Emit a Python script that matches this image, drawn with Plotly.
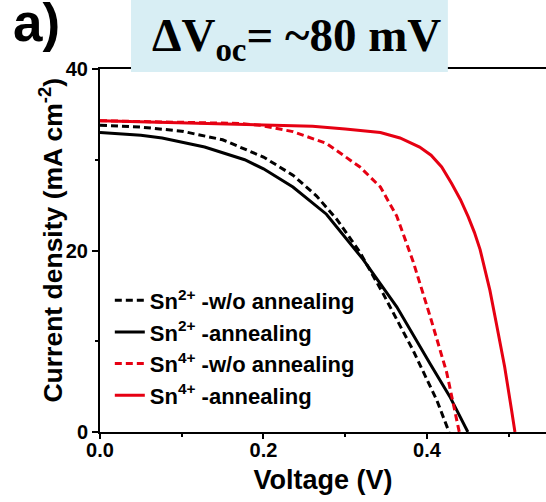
import plotly.graph_objects as go

# J-V curves (voltage in V, current density in mA cm^-2)
v_sn2_wo = [0, 0.05, 0.10, 0.15, 0.20, 0.236, 0.265, 0.29, 0.318, 0.346, 0.383, 0.412, 0.427]
j_sn2_wo = [33.8, 33.6, 33.15, 32.2, 30.3, 28.3, 26.0, 23.4, 19.8, 15.3, 9.0, 3.5, 0]

v_sn2_an = [0, 0.05, 0.076, 0.128, 0.177, 0.20, 0.236, 0.277, 0.322, 0.363, 0.404, 0.428, 0.450]
j_sn2_an = [33.0, 32.7, 32.4, 31.4, 30.0, 29.0, 27.0, 24.0, 19.0, 13.8, 7.5, 3.9, 0]

v_sn4_wo = [0, 0.10, 0.17, 0.196, 0.236, 0.277, 0.318, 0.343, 0.363, 0.383, 0.404, 0.424, 0.4395]
j_sn4_wo = [34.3, 34.1, 34.0, 33.8, 33.1, 31.8, 29.2, 27.0, 23.8, 18.8, 12.7, 6.6, 0]

v_sn4_an = [0, 0.10, 0.20, 0.26, 0.30, 0.343, 0.367, 0.391, 0.405, 0.418, 0.430, 0.441,
            0.4505, 0.458, 0.465, 0.471, 0.477, 0.485, 0.495, 0.5035, 0.5076]
j_sn4_an = [34.3, 34.1, 33.9, 33.7, 33.4, 33.0, 32.4, 31.4, 30.5, 29.2, 27.4, 25.6,
            23.7, 22.0, 20.1, 18.0, 15.6, 11.9, 7.2, 2.4, 0]

names = ["Sn<sup>2+</sup> -w/o annealing", "Sn<sup>2+</sup> -annealing",
         "Sn<sup>4+</sup> -w/o annealing", "Sn<sup>4+</sup> -annealing"]

x_ticks = [0.0, 0.2, 0.4]
y_ticks = [0, 20, 40]

BLACK = "#000000"
RED = "#e60012"
DASH = "7px,4px"

series = [
    (v_sn2_wo, j_sn2_wo, names[0], BLACK, DASH),
    (v_sn2_an, j_sn2_an, names[1], BLACK, "solid"),
    (v_sn4_wo, j_sn4_wo, names[2], RED, DASH),
    (v_sn4_an, j_sn4_an, names[3], RED, "solid"),
]

fig = go.Figure()
for i, (v, j, name, color, dash) in enumerate(series):
    fig.add_trace(go.Scatter(
        x=v, y=j, name=name, mode="lines", legendgroup=f"g{i}",
        line=dict(color=color, width=3, dash=dash),
    ))

FONT = "Liberation Sans, Arial, sans-serif"

fig.update_layout(
    width=546, height=502,
    margin=dict(l=100, r=0, t=69, b=70),
    paper_bgcolor="white", plot_bgcolor="white",
    showlegend=True,
    legend=dict(
        x=0.022, y=0.42, xanchor="left", yanchor="top",
        bgcolor="rgba(0,0,0,0)", borderwidth=0,
        font=dict(family=FONT, size=22, color="black", weight="bold"),
        tracegroupgap=0, traceorder="grouped",
    ),
    xaxis=dict(
        range=[0, 0.5456], tickvals=x_ticks, tickformat=".1f",
        showline=True, linecolor="black", linewidth=2, mirror=True,
        ticks="outside", ticklen=5, tickwidth=2, tickcolor="black",
        minor=dict(dtick=0.1, ticks="outside", ticklen=3, tickwidth=2, tickcolor="black"),
        showgrid=False, zeroline=False, ticklabelstandoff=-6,
        tickfont=dict(family=FONT, size=20, color="black", weight="bold"),
        title=dict(text="Voltage (V)", standoff=10,
                   font=dict(family=FONT, size=27, color="black", weight="bold")),
    ),
    yaxis=dict(
        range=[0, 40], tickvals=y_ticks,
        showline=True, linecolor="black", linewidth=2, mirror=False,
        ticks="outside", ticklen=6, tickwidth=2, tickcolor="black",
        minor=dict(dtick=10, ticks="outside", ticklen=3, tickwidth=2, tickcolor="black"),
        showgrid=False, zeroline=False,
        tickfont=dict(family=FONT, size=20, color="black", weight="bold"),
    ),
)

# y-axis title
fig.add_annotation(
    text="Current density (mA cm<sup>-2</sup>)", textangle=-90,
    xref="paper", yref="paper", x=-0.11, y=0.53, xanchor="center", yanchor="middle",
    showarrow=False, font=dict(family=FONT, size=26.5, color="black", weight="bold"),
)

# highlighted caption box over the top frame
fig.add_shape(
    type="rect", xref="paper", yref="paper", x0=0.0695, x1=0.780, y0=0.9917, y1=1.2,
    fillcolor="#d8eef4", line=dict(width=0), layer="above",
)
fig.add_annotation(
    text="ΔV<sub>oc</sub>= ~80 mV", xref="paper", yref="paper",
    x=0.4395, y=1.085, xanchor="center", yanchor="middle", showarrow=False,
    font=dict(family="Liberation Serif, Times New Roman, serif", size=47,
              color="black", weight="bold"),
)

# panel labels
fig.add_annotation(
    text="a)", xref="paper", yref="paper", x=-0.2, y=1.215,
    xanchor="left", yanchor="top", showarrow=False,
    font=dict(family=FONT, size=53, color="black", weight="bold"),
)
fig.add_annotation(
    text="b)", xref="paper", yref="paper", x=-0.2, y=-0.17,
    xanchor="left", yanchor="top", showarrow=False,
    font=dict(family=FONT, size=50, color="black", weight="bold"),
)

fig.write_html("out.html")
